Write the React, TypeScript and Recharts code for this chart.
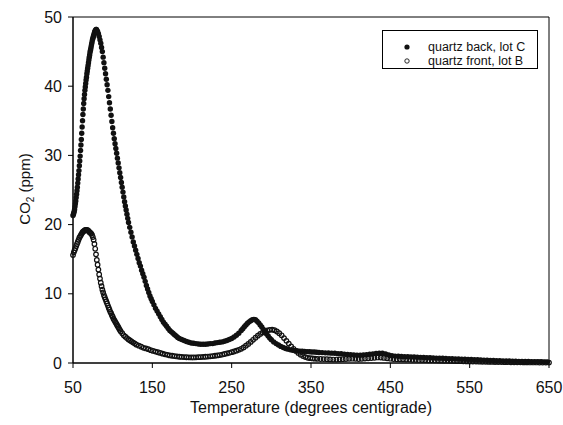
import React from "react";
import {
  Legend,
  ReferenceArea,
  Scatter,
  ScatterChart,
  XAxis,
  YAxis,
} from "recharts";

// quartz back, lot C (filled markers)
const backTemp = [
  50, 50.5, 51, 51.5, 52, 52.5, 53, 53.5, 54, 54.5,
  55, 55.5, 56, 56.5, 57, 57.5, 58, 58.5, 59, 59.5,
  60, 60.5, 61, 61.5, 62, 62.5, 63, 63.5, 64, 64.5,
  65, 65.5, 66, 66.5, 67, 67.5, 68, 68.5, 69, 69.5,
  70, 70.5, 71, 71.5, 72, 72.5, 73, 73.5, 74, 74.5,
  75, 75.5, 76, 76.5, 77, 77.5, 78, 78.5, 79, 79.5,
  80, 81, 82, 83, 84, 85, 86, 87, 88, 89,
  90, 91, 92, 93, 94, 95, 96, 97, 98, 99,
  100, 101, 102, 103, 104, 105, 106, 107, 108, 109,
  110, 111, 112, 113, 114, 115, 116, 117, 118, 119,
  120, 121.5, 123, 124.5, 126, 127.5, 129, 130.5, 132, 133.5,
  135, 136.5, 138, 139.5, 141, 142.5, 144, 145.5, 147, 148.5,
  150, 152, 154, 156, 158, 160, 162, 164, 166, 168,
  170, 172, 174, 176, 178, 180, 182, 184,
  187, 190, 193, 196, 199, 202, 205, 208, 211, 214,
  217, 220, 223, 226, 229, 232, 235, 238, 241, 244,
  247, 250, 253, 256, 259, 262,
  264, 266, 268, 270, 272, 274, 276, 278, 280, 282,
  284, 286, 288, 290, 292, 294, 296, 298, 300,
  303, 306, 309, 312, 315, 318, 321, 324, 327, 330,
  333, 336, 339, 342, 345, 348, 351, 354, 357, 360,
  364, 368, 372, 376, 380, 384, 388, 392, 396, 400,
  404, 408, 412, 416, 420, 424, 428, 432, 436, 440,
  444, 448, 452, 456, 460, 464, 468, 472, 476, 480,
  484, 488, 492, 496, 500, 504, 508, 512, 516, 520,
  524, 528, 532, 536, 540, 544, 548, 552, 556, 560,
  564, 568, 572, 576, 580, 584, 588, 592, 596, 600,
  604, 608, 612, 616, 620, 624, 628, 632, 636, 640, 644, 648,
];
const backCo2 = [
  21.3, 21.5, 21.7, 21.9, 22.2, 22.6, 23.0, 23.4, 23.9, 24.4,
  24.9, 25.4, 26.0, 26.6, 27.2, 27.8, 28.5, 29.2, 29.9, 30.7,
  31.5, 32.3, 33.2, 34.1, 35.0, 35.9, 36.7, 37.5, 38.2, 38.8,
  39.4, 39.9, 40.4, 40.9, 41.3, 41.8, 42.2, 42.6, 43.0, 43.4,
  43.8, 44.2, 44.5, 44.9, 45.2, 45.5, 45.8, 46.1, 46.4, 46.7,
  46.9, 47.1, 47.3, 47.5, 47.7, 47.9, 48.0, 48.1, 48.2, 48.2,
  48.1, 47.9, 47.6, 47.2, 46.7, 46.2, 45.6, 45.0, 44.2, 43.4,
  42.6, 41.8, 41.0, 40.2, 39.4, 38.5, 37.6, 36.7, 35.8, 34.9,
  34.0, 33.2, 32.4, 31.7, 31.0, 30.3, 29.6, 28.9, 28.2, 27.5,
  26.8, 26.1, 25.4, 24.7, 24.0, 23.3, 22.7, 22.1, 21.5, 20.9,
  20.3, 19.6, 18.9, 18.2, 17.5, 16.9, 16.3, 15.7, 15.1, 14.5,
  14.0, 13.4, 12.9, 12.4, 11.8, 11.2, 10.7, 10.2, 9.7, 9.3,
  8.9, 8.4, 7.9, 7.5, 7.1, 6.7, 6.3, 5.9, 5.6, 5.3,
  5.0, 4.7, 4.5, 4.3, 4.1, 3.9, 3.7, 3.55,
  3.4, 3.25, 3.1, 3.0, 2.9, 2.85, 2.8, 2.75, 2.7, 2.7,
  2.7, 2.75, 2.8, 2.8, 2.9, 2.95, 3.0, 3.05, 3.15, 3.25,
  3.4, 3.55, 3.75, 4.0, 4.3, 4.7,
  4.95, 5.25, 5.5, 5.75, 5.95, 6.1, 6.25, 6.3, 6.25, 6.05,
  5.8, 5.5, 5.2, 4.85, 4.5, 4.2, 3.9, 3.6, 3.35,
  3.05, 2.8, 2.6, 2.4, 2.25, 2.1, 2.0, 1.9, 1.85, 1.8,
  1.75, 1.72, 1.7, 1.68, 1.65, 1.62, 1.6, 1.58, 1.55, 1.52,
  1.5, 1.47, 1.46, 1.42, 1.4, 1.35, 1.33, 1.28, 1.25, 1.2,
  1.16, 1.12, 1.13, 1.17, 1.2, 1.26, 1.3, 1.38, 1.42, 1.4,
  1.3, 1.17, 1.06, 1.0, 0.97, 0.93, 0.92, 0.9, 0.87, 0.86,
  0.83, 0.82, 0.8, 0.77, 0.76, 0.74, 0.71, 0.7, 0.68, 0.66,
  0.63, 0.62, 0.6, 0.57, 0.55, 0.54, 0.51, 0.5, 0.47, 0.46,
  0.43, 0.42, 0.4, 0.37, 0.36, 0.34, 0.32, 0.31, 0.29, 0.28,
  0.27, 0.26, 0.24, 0.23, 0.22, 0.21, 0.2, 0.19, 0.18, 0.17, 0.16, 0.15,
];

// quartz front, lot B (open markers)
const frontTemp = [
  50, 51, 52, 53, 54, 55, 56, 57, 58, 59,
  60, 61, 62, 63, 64, 65, 66, 67, 68, 69,
  70, 71, 72, 73, 74, 75, 76, 77, 78, 79,
  80, 81, 82, 83, 84, 85, 86, 87, 88, 89,
  90, 91, 92, 93, 94, 95, 96, 97, 98, 99,
  100, 101, 102, 103, 104, 105, 106, 107, 108, 109,
  110, 112, 114, 116, 118, 120, 122, 124, 126, 128, 130,
  133, 136, 139, 142, 145, 148, 151, 154, 157, 160,
  163, 166, 169, 172, 175, 178, 181, 184, 187, 190,
  193, 196, 199, 202, 205, 208, 211, 214, 217, 220,
  223, 226, 229, 232, 235, 238, 241, 244, 247, 250,
  253, 256, 259, 262, 265, 268, 271, 274, 277, 280,
  283, 286, 289, 292, 295, 298, 301, 304, 307, 310,
  313, 316, 319, 322, 325, 328, 331, 334, 337, 340,
  343, 346, 349, 352, 355, 358,
  362, 366, 370, 374, 378, 382, 386, 390, 394, 398,
  402, 406, 410, 414, 418, 422, 426, 430, 434, 438,
  442, 446, 450, 454, 458, 462, 466, 470, 474, 478,
  482, 486, 490, 494, 498, 502, 506, 510, 514, 518,
  522, 526, 530, 534, 538, 542, 546, 550, 554, 558,
  562, 566, 570, 574, 578, 582, 586, 590, 594, 598,
  602, 606, 610, 614, 618, 622, 626, 630, 634, 638,
  642, 646, 650,
];
const frontCo2 = [
  15.6, 16.0, 16.3, 16.6, 16.9, 17.2, 17.5, 17.8, 18.1, 18.3,
  18.5, 18.7, 18.9, 19.0, 19.1, 19.2, 19.25, 19.25, 19.2, 19.15,
  19.0, 18.9, 18.8, 18.7, 18.5, 18.2, 17.8, 17.2, 16.5, 15.7,
  14.9, 14.2, 13.5, 12.8, 12.2, 11.6, 11.1, 10.6, 10.2, 9.8,
  9.5, 9.2, 8.9, 8.6, 8.3, 8.0, 7.7, 7.4, 7.2, 6.9,
  6.7, 6.4, 6.2, 6.0, 5.8, 5.6, 5.4, 5.2, 5.0, 4.8,
  4.6, 4.3, 4.0, 3.8, 3.6, 3.4, 3.25, 3.1, 2.95, 2.8, 2.65,
  2.5, 2.35, 2.2, 2.1, 2.0, 1.85, 1.75, 1.65, 1.55, 1.45,
  1.35, 1.25, 1.18, 1.1, 1.05, 1.0, 0.95, 0.9, 0.88, 0.85,
  0.83, 0.82, 0.8, 0.8, 0.82, 0.84, 0.86, 0.88, 0.9, 0.93,
  0.97, 1.0, 1.05, 1.1, 1.15, 1.22, 1.3, 1.38, 1.47, 1.56,
  1.66, 1.78, 1.9, 2.05, 2.25, 2.5, 2.75, 3.05, 3.35, 3.65,
  3.95, 4.2, 4.4, 4.55, 4.7, 4.8, 4.82, 4.75, 4.55, 4.3,
  4.0, 3.6, 3.2, 2.8, 2.4, 2.05, 1.75, 1.45, 1.2, 1.0,
  0.85, 0.75, 0.7, 0.66, 0.62, 0.6,
  0.58, 0.56, 0.55, 0.52, 0.5, 0.5, 0.52, 0.55, 0.58, 0.6,
  0.62, 0.6, 0.58, 0.6, 0.64, 0.68, 0.72, 0.76, 0.8, 0.78,
  0.74, 0.68, 0.62, 0.58, 0.55, 0.53, 0.52, 0.5, 0.49, 0.47,
  0.46, 0.44, 0.43, 0.41, 0.4, 0.38, 0.37, 0.35, 0.34, 0.32,
  0.31, 0.3, 0.28, 0.27, 0.26, 0.24, 0.23, 0.22, 0.21, 0.2,
  0.19, 0.18, 0.17, 0.16, 0.15, 0.14, 0.14, 0.13, 0.12, 0.12,
  0.11, 0.11, 0.1, 0.1, 0.09, 0.09, 0.08, 0.08, 0.08, 0.07,
  0.07, 0.07, 0.06,
];

const xTicks = [50, 150, 250, 350, 450, 550, 650];
const yTicks = [0, 10, 20, 30, 40, 50];

const back = backTemp.map((t, i) => ({ t, co2: backCo2[i] }));
const front = frontTemp.map((t, i) => ({ t, co2: frontCo2[i] }));

const FONT = "'Liberation Sans', Arial, Helvetica, sans-serif";
const INK = "#111";

const FilledDot = (props: any) => (
  <circle cx={props.cx} cy={props.cy} r={2.7} fill={INK} />
);

const OpenDot = (props: any) => (
  <circle cx={props.cx} cy={props.cy} r={2.3} fill="none" stroke={INK} strokeWidth={1.2} />
);

// rotated axis title with a subscript 2
const YTitle = () => (
  <text transform="translate(30,189) rotate(-90)" textAnchor="middle" fontSize={15} fill={INK} fontFamily={FONT}>
    CO
    <tspan fontSize={10} dy={4}>2</tspan>
    <tspan dy={-4}> (ppm)</tspan>
  </text>
);

const LegendBox = () => (
  <div style={{ width: 156, height: 39, border: "1px solid #000", boxSizing: "border-box", background: "#fff" }}>
    <svg width={154} height={37} style={{ display: "block" }}>
      <circle cx={24} cy={16} r={2.6} fill={INK} />
      <text x={45} y={16} dominantBaseline="central" fontSize={12.5} fill={INK} fontFamily={FONT}>
        quartz back, lot C
      </text>
      <circle cx={24} cy={30} r={2.2} fill="none" stroke={INK} strokeWidth={0.9} />
      <text x={45} y={30} dominantBaseline="central" fontSize={12.5} fill={INK} fontFamily={FONT}>
        quartz front, lot B
      </text>
    </svg>
  </div>
);

export default function App() {
  return (
    <div style={{ position: "absolute", left: 0, top: 0, background: "#fff" }}>
      <ScatterChart
        width={563}
        height={425}
        margin={{ top: 17, right: 14, bottom: 0, left: 0 }}
        style={{ fontFamily: FONT }}
      >
        <XAxis
          type="number"
          dataKey="t"
          domain={[50, 650]}
          ticks={xTicks}
          height={62}
          tickSize={5}
          tickMargin={14}
          stroke="#000"
          tick={{ fontSize: 16, fill: INK }}
          label={{
            value: "Temperature (degrees centigrade)",
            position: "insideBottom",
            offset: 12,
            fontSize: 16,
            fill: INK,
          }}
        />
        <YAxis
          type="number"
          dataKey="co2"
          domain={[0, 50]}
          ticks={yTicks}
          width={73}
          tickSize={5}
          tickMargin={6}
          stroke="#000"
          tick={{ fontSize: 16, fill: INK }}
          label={() => <YTitle />}
        />
        <ReferenceArea x1={50} x2={650} y1={0} y2={50} fill="none" stroke="#000" strokeWidth={1} />
        <Scatter name="quartz back, lot C" data={back} shape={FilledDot} isAnimationActive={false} />
        <Scatter name="quartz front, lot B" data={front} shape={OpenDot} isAnimationActive={false} />
        <Legend
          layout="vertical"
          align="center"
          verticalAlign="middle"
          wrapperStyle={{ left: 382, top: 30, width: 156, height: 39 }}
          content={() => <LegendBox />}
        />
      </ScatterChart>
    </div>
  );
}
